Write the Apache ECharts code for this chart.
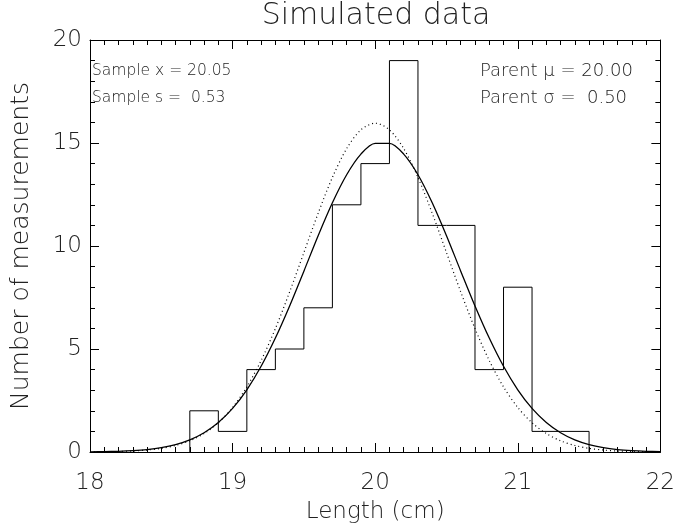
<!DOCTYPE html>
<html>
<head>
<meta charset="utf-8">
<script src="https://cdn.jsdelivr.net/npm/echarts@6/dist/echarts.min.js"></script>
<style>html,body{margin:0;padding:0;background:#fff}#c{width:678px;height:529px}</style>
</head>
<body>
<div id="c"></div>
<script>
const titleText = 'Simulated data';
const xName = 'Length (cm)';
const yName = 'Number of measurements';
const xTicks = [18, 19, 20, 21, 22];
const yTicks = [0, 5, 10, 15, 20];
const binEdges = [18.7,18.9,19.1,19.3,19.5,19.7,19.9,20.1,20.3,20.5,20.7,20.9,21.1,21.3,21.5];
const counts = [2,1,4,5,7,12,14,19,11,11,4,8,1,1];
const curveX = [18.0,18.1,18.2,18.3,18.4,18.5,18.6,18.7,18.8,18.9,19.0,19.1,19.2,19.3,19.4,19.5,19.6,19.7,19.8,19.9,20.0,20.1,20.2,20.3,20.4,20.5,20.6,20.7,20.8,20.9,21.0,21.1,21.2,21.3,21.4,21.5,21.6,21.7,21.8,21.9,22.0];
const sampleFit = [0.0085,0.017,0.034,0.065,0.118,0.209,0.357,0.587,0.933,1.43,2.115,3.02,4.16,5.53,7.09,8.78,10.50,12.10,13.46,14.46,14.98,14.98,14.46,13.46,12.10,10.50,8.78,7.09,5.53,4.16,3.02,2.115,1.43,0.933,0.587,0.357,0.209,0.118,0.065,0.034,0.017];
const parentFit = [0.005,0.012,0.024,0.049,0.095,0.177,0.317,0.543,0.896,1.42,2.16,3.16,4.44,5.99,7.77,9.68,11.59,13.33,14.73,15.64,15.96,15.64,14.73,13.33,11.59,9.68,7.77,5.99,4.44,3.16,2.16,1.42,0.896,0.543,0.317,0.177,0.095,0.049,0.024,0.012,0.005];
const statLabels = ['Sample x = 20.05', 'Sample s =  0.53', 'Parent \u03bc = 20.00', 'Parent \u03c3 =  0.50'];

const FONT = 'DejaVu Sans';
const TXT = '#222';
const LW = 'lighter';

const outline = [[binEdges[0], 0]];
counts.forEach((c, i) => { outline.push([binEdges[i], c]); outline.push([binEdges[i + 1], c]); });
outline.push([binEdges[binEdges.length - 1], 0]);

const chart = echarts.init(document.getElementById('c'), null, {renderer: 'canvas'});

function axisBase(extra) {
  return Object.assign({
    type: 'value',
    axisLine: {show: true, onZero: false, lineStyle: {color: '#000', width: 1}},
    axisTick: {show: true, inside: true, length: 9, lineStyle: {color: '#000'}},
    splitLine: {show: false},
    minorSplitLine: {show: false}
  }, extra);
}

const option = {
  animation: false,
  backgroundColor: '#fff',
  grid: {left: 90, right: 15, top: 40, bottom: 77, containLabel: false},
  xAxis: [
    axisBase({min: xTicks[0], max: xTicks[xTicks.length - 1], interval: 1, position: 'bottom',
      minorTick: {show: true, splitNumber: 10, length: 5, lineStyle: {color: '#000'}},
      name: xName, nameLocation: 'middle', nameGap: 49,
      nameTextStyle: {fontFamily: FONT, fontSize: 23, color: TXT, fontWeight: LW},
      axisLabel: {margin: 20, fontFamily: FONT, fontSize: 23, color: TXT, fontWeight: LW}}),
    axisBase({min: xTicks[0], max: xTicks[xTicks.length - 1], interval: 1, position: 'top',
      minorTick: {show: true, splitNumber: 10, length: 5, lineStyle: {color: '#000'}},
      axisLabel: {show: false}})
  ],
  yAxis: [
    axisBase({min: yTicks[0], max: yTicks[yTicks.length - 1], interval: 5, position: 'left',
      minorTick: {show: true, splitNumber: 5, length: 5, lineStyle: {color: '#000'}},
      name: yName, nameLocation: 'middle', nameGap: 56,
      nameTextStyle: {fontFamily: FONT, fontSize: 25, color: TXT, fontWeight: LW},
      axisLabel: {margin: 8, fontFamily: FONT, fontSize: 23, color: TXT, fontWeight: LW}}),
    axisBase({min: yTicks[0], max: yTicks[yTicks.length - 1], interval: 5, position: 'right',
      minorTick: {show: true, splitNumber: 5, length: 5, lineStyle: {color: '#000'}},
      axisLabel: {show: false}})
  ],
  series: [
    {type: 'line', data: outline, symbol: 'none', lineStyle: {color: '#000', width: 1}, silent: true, z: 3},
    {type: 'line', data: curveX.map((x, i) => [x, sampleFit[i]]), symbol: 'none', smooth: 0.3,
      lineStyle: {color: '#000', width: 1.3}, silent: true, z: 4},
    {type: 'line', data: curveX.map((x, i) => [x, parentFit[i]]), symbol: 'none', smooth: 0.3,
      lineStyle: {color: '#000', width: 1.2, type: [1, 3]}, silent: true, z: 4}
  ],
  graphic: [
    {type: 'text', x: 376, y: 16, style: {text: titleText, font: '200 30px "' + FONT + '"', fill: TXT, textAlign: 'center', textVerticalAlign: 'middle'}},
    {type: 'text', x: 92, y: 71, style: {text: statLabels[0], font: '200 15.5px "' + FONT + '"', fill: TXT, textAlign: 'left', textVerticalAlign: 'middle'}},
    {type: 'text', x: 92, y: 98, style: {text: statLabels[1], font: '200 15.5px "' + FONT + '"', fill: TXT, textAlign: 'left', textVerticalAlign: 'middle'}},
    {type: 'text', x: 480, y: 71, style: {text: statLabels[2], font: '200 18px "' + FONT + '"', fill: TXT, textAlign: 'left', textVerticalAlign: 'middle'}},
    {type: 'text', x: 480, y: 98, style: {text: statLabels[3], font: '200 18px "' + FONT + '"', fill: TXT, textAlign: 'left', textVerticalAlign: 'middle'}}
  ]
};
chart.setOption(option);
</script>
</body>
</html>
